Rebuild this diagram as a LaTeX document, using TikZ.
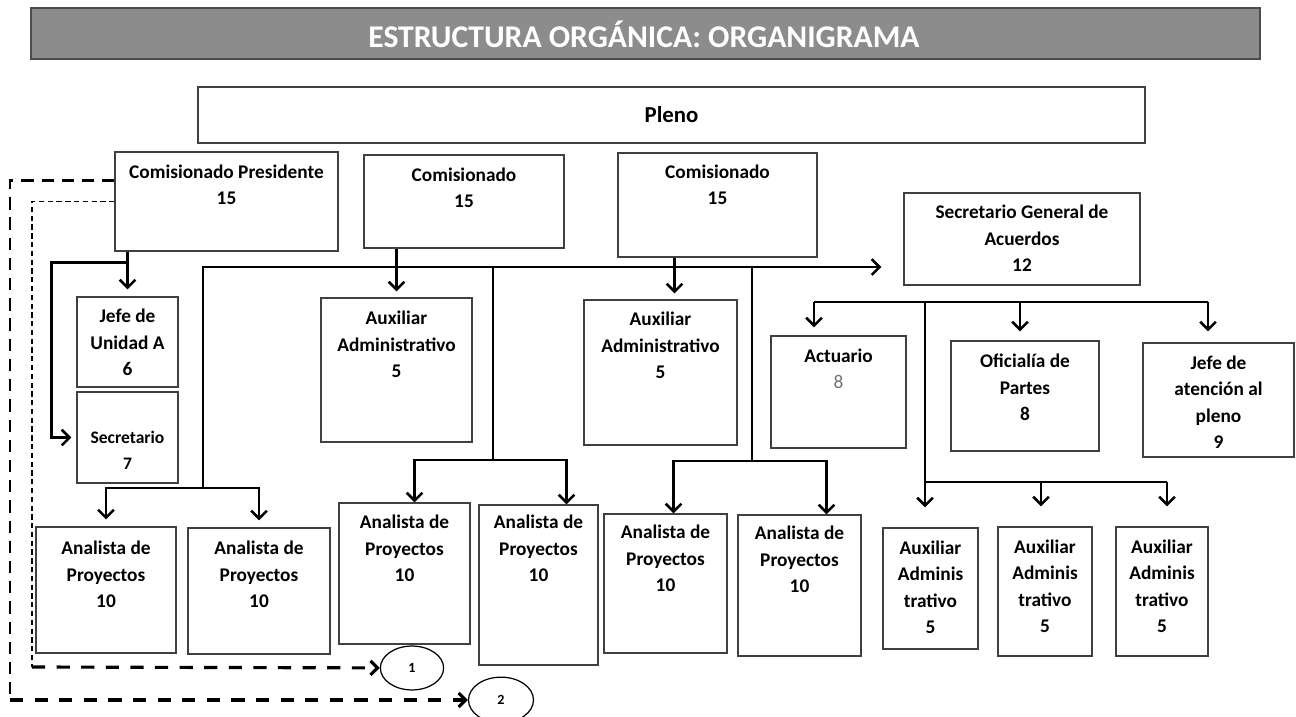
\documentclass[tikz,border=0pt]{standalone}
\usepackage{fontspec}
\setmainfont{Carlito}
\usetikzlibrary{arrows.meta,calc,fit,shapes.geometric,positioning}

\begin{document}
\begin{tikzpicture}[x=0.02cm,y=-0.02cm,
  box/.style={draw=black!75,line width=0.6pt,inner sep=0pt},
  txt/.style={anchor=base,align=center,inner sep=0pt,font=\fontsize{11}{15}\selectfont\bfseries},
  link/.style={line width=1.5pt},
  arr/.style={line width=1.5pt,-{Straight Barb[length=4.5pt,width=9pt]}},
  dashline/.style={line width=1.3pt,dash pattern=on 7pt off 4.5pt},
  thindash/.style={line width=0.6pt,dash pattern=on 3pt off 2pt},
  dasharrow/.style={line width=1.8pt,dash pattern=on 7.5pt off 6.5pt,-{Straight Barb[length=4pt,width=8pt]}},
  num/.style={draw,ellipse,line width=0.7pt,inner sep=0pt,minimum width=36pt,minimum height=25pt,font=\fontsize{8}{8}\selectfont\bfseries}]

\useasboundingbox (0,0) rectangle (1296,717);

\node[box, fill=black!45, draw=black!70, fit={(31,8) (1260,59)}] (title) {};
\node[anchor=base, text=white, font=\fontsize{18}{18}\selectfont\bfseries] (title-t) at (644,47) {ESTRUCTURA ORGÁNICA: ORGANIGRAMA};

\node[box, fit={(198,87) (1145,143)}] (pleno) {};
\node[font=\fontsize{13}{13}\selectfont\bfseries] (pleno-t) at (pleno.center) {Pleno};

% comisionados
\node[box, fit={(115,152) (338,251)}] (cpres) {};
\node[txt] (cpres-t) at ($(cpres.north)+(0,53)$) {Comisionado Presidente\\15};
\node[box, fit={(364,155) (564,248)}] (comA) {};
\node[txt] (comA-t) at ($(comA.north)+(0,53)$) {Comisionado\\15};
\node[box, fit={(618,153) (817,257)}] (comB) {};
\node[txt] (comB-t) at ($(comB.north)+(0,52)$) {Comisionado\\15};
\node[box, fit={(904,193) (1140,285)}] (sga) {};
\node[txt] (sga-t) at ($(sga.north)+(0,79)$) {Secretario General de\\Acuerdos\\12};

% segundo nivel
\node[box, fit={(77,297) (178,387)}] (jua) {};
\node[txt] (jua-t) at ($(jua.north)+(0,79)$) {Jefe de\\Unidad A\\6};
\node[box, fit={(77,392) (178,483)}] (sec) {};
\node[txt, font=\fontsize{10}{15}\selectfont\bfseries] (sec-t) at ($(sec.north)+(0,78.5)$) {Secretario\\7};
\node[box, fit={(321,298) (472,442)}] (auxA) {};
\node[txt] (auxA-t) at ($(auxA.north)+(0,80)$) {Auxiliar\\Administrativo\\5};
\node[box, fit={(584,300) (737,445)}] (auxB) {};
\node[txt] (auxB-t) at ($(auxB.north)+(0,79)$) {Auxiliar\\Administrativo\\5};
\node[box, fit={(771,336) (906,448)}] (act) {};
\node[txt] (act-t) at ($(act.north)+(0,53)$) {Actuario\\{\mdseries\color{black!55}8}};
\node[box, fit={(951,341) (1099,451)}] (ofp) {};
\node[txt] (ofp-t) at ($(ofp.north)+(0,80)$) {Oficialía de\\Partes\\8};
\node[box, fit={(1143,343) (1294,457)}] (jap) {};
\node[txt] (jap-t) at ($(jap.north)+(0,106)$) {Jefe de\\atención al\\pleno\\9};

% tercer nivel
\node[box, fit={(36,527) (176,653)}] (anA) {};
\node[txt] (anA-t) at ($(anA.north)+(0,81)$) {Analista de\\Proyectos\\10};
\node[box, fit={(188,528) (330,654)}] (anB) {};
\node[txt] (anB-t) at ($(anB.north)+(0,80)$) {Analista de\\Proyectos\\10};
\node[box, fit={(339,503) (470,644)}] (anC) {};
\node[txt] (anC-t) at ($(anC.north)+(0,79)$) {Analista de\\Proyectos\\10};
\node[box, fit={(479,505) (598,665)}] (anD) {};
\node[txt] (anD-t) at ($(anD.north)+(0,77)$) {Analista de\\Proyectos\\10};
\node[box, fit={(604,514) (727,653)}] (anE) {};
\node[txt] (anE-t) at ($(anE.north)+(0,78)$) {Analista de\\Proyectos\\10};
\node[box, fit={(738,515) (861,656)}] (anF) {};
\node[txt] (anF-t) at ($(anF.north)+(0,78)$) {Analista de\\Proyectos\\10};
\node[box, fit={(883,528) (978,649)}] (axA) {};
\node[txt] (axA-t) at ($(axA.north)+(0,106)$) {Auxiliar\\Adminis\\trativo\\5};
\node[box, fit={(998,527) (1092,656)}] (axB) {};
\node[txt] (axB-t) at ($(axB.north)+(0,106)$) {Auxiliar\\Adminis\\trativo\\5};
\node[box, fit={(1116,527) (1208,656)}] (axC) {};
\node[txt] (axC-t) at ($(axC.north)+(0,106)$) {Auxiliar\\Adminis\\trativo\\5};

\node[num] (one) at (412,668) {1};
\node[num, minimum width=37pt, minimum height=26pt] (two) at (501,700) {2};

% conectores
\draw[arr] (cpres.south -| jua.north) -- ($(jua.north)+(0,-7)$);
\draw[arr] ($(cpres.south -| jua.north)+(0,11)$) -| ($(sec.west)+(-25,0)$) -- ($(sec.west)+(-5,0)$);

\coordinate (busL) at (203,267);
\coordinate (brA) at (203,488);
\draw[arr] (brA) -- (busL) -- ($(sga.west)+(-22,28)$);
\draw[arr] (brA) -| ($(anA.north)+(0,-7)$);
\draw[arr] (brA) -| ($(anB.north)+(0,-7)$);

\draw[arr] (auxA.north |- comA.south) -- ($(auxA.north)+(0,-6)$);
\draw[arr] ($(auxB.north |- comB.south)+(14,0)$) -- ($(auxB.north)+(14,-6)$);

\coordinate (brB) at (493,460);
\draw[link] (busL -| brB) -- (brB);
\draw[arr] (brB) -| ($(anC.north)+(10,0)$);
\draw[arr] (brB) -| ($(anD.north)+(28,0)$);
\coordinate (brC) at (752,461);
\draw[link] (busL -| brC) -- (brC);
\draw[arr] (brC) -| ($(anE.north)+(8,0)$);
\draw[arr] (brC) -| ($(anF.north)+(27,0)$);

\coordinate (sgL) at (814,302);
\coordinate (sgR) at (1208,302);
\coordinate (sgV) at (925,302);
\draw[link] (sgL) -- (sgR);
\draw[arr] (sgL) -- ($(sgL |- act.north)+(0,-8)$);
\draw[arr] ($(sgL -| ofp.north)+(-5,0)$) -- ($(ofp.north)+(-5,-9)$);
\draw[arr] (sgR) -- ($(sgR |- jap.north)+(0,-11)$);

\coordinate (brD) at (925,482);
\coordinate (axR) at (1167,482);
\draw[link] (sgV) -- (brD) -- (axR);
\draw[arr] (brD) -- ($(brD |- axA.north)+(0,-20)$);
\draw[arr] ($(brD -| axB.north)+(-4,0)$) -- ($(axB.north)+(-4,-20)$);
\draw[arr] (axR) -- ($(axR |- axC.north)+(0,-20)$);

% lineas punteadas
\coordinate (dA) at (32,667);
\coordinate (dB) at (10,700);
\draw[dashline] ($(cpres.west)+(0,-21)$) -| (dB);
\draw[dasharrow] (dB) -- (two);
\draw[thindash] (cpres.west) -| (dA);
\draw[dasharrow] (dA) -- (one);

\end{tikzpicture}
\end{document}
